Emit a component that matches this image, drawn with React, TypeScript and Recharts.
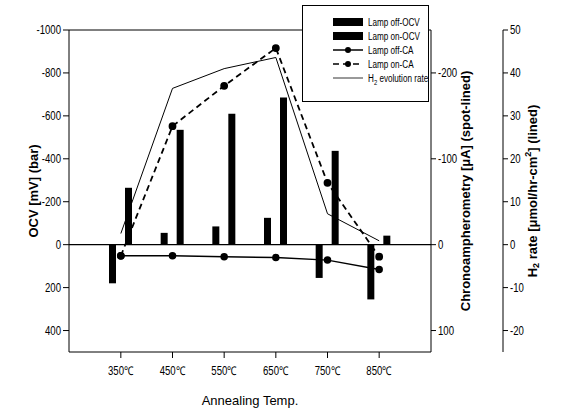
import React from 'react';
import {
  ComposedChart,
  Bar,
  Line,
  XAxis,
  YAxis,
  Legend,
  ReferenceLine,
} from 'recharts';

const temps = ['350℃', '450℃', '550℃', '650℃', '750℃', '850℃'];
const lampOffOcv = [180, -55, -85, -125, 155, 255];
const lampOnOcv = [-265, -535, -610, -685, -437, -42];
const lampOffCa = [13, 13, 14, 15, 18, 29];
const lampOnCa = [13, -138, -185, -229, -72, 14];
const h2Rate = [2.6, 36.4, 41, 43.6, 7.2, 0.9];

const ocvTicks = [-1000, -800, -600, -400, -200, 0, 200, 400];
const caTicks = [-200, -100, 0, 100];
const h2Ticks = [-20, -10, 0, 10, 20, 30, 40, 50];

const data = temps.map((t, i) => ({
  temp: t,
  offOcv: lampOffOcv[i],
  onOcv: lampOnOcv[i],
  offCa: lampOffCa[i],
  onCa: lampOnCa[i],
  h2: h2Rate[i],
}));

const SANS = "'Liberation Sans', Arial, sans-serif";
const SQUEEZE = 0.8; // no narrow font installed, so squash Arial a bit

// tick text squeezed horizontally to look like Arial Narrow
function NarrowTick(props: any) {
  const { x, y, payload, textAnchor, dy } = props;
  return (
    <text
      transform={`translate(${x},${y}) scale(${SQUEEZE},1)`}
      textAnchor={textAnchor}
      dy={dy}
      fontSize={12}
      fontFamily={SANS}
      fill="#000"
    >
      {payload.value}
    </text>
  );
}

function AxisTitle({ x, y, size = 13, children }: { x: number; y: number; size?: number; children: React.ReactNode }) {
  return (
    <text
      transform={`translate(${x},${y}) rotate(-90)`}
      textAnchor="middle"
      dominantBaseline="middle"
      fontFamily={SANS}
      fontWeight="bold"
      fontSize={size}
      fill="#000"
    >
      {children}
    </text>
  );
}

const legendRows = [
  { name: 'Lamp off-OCV', kind: 'bar' },
  { name: 'Lamp on-OCV', kind: 'bar' },
  { name: 'Lamp off-CA', kind: 'solid' },
  { name: 'Lamp on-CA', kind: 'dashed' },
  { name: 'H2 evolution rate', kind: 'thin' },
];

function LegendBox() {
  return (
    <svg width={127} height={97} style={{ display: 'block', background: '#fff' }}>
      <rect x={0.5} y={0.5} width={126} height={96} fill="#fff" stroke="#000" />
      {legendRows.map((r, i) => {
        const y = 17 + i * 14;
        return (
          <g key={r.name}>
            {r.kind === 'bar' && <rect x={31} y={y - 4} width={30} height={8} fill="#000" />}
            {r.kind === 'solid' && <line x1={31} x2={61} y1={y} y2={y} stroke="#000" strokeWidth={1.5} />}
            {r.kind === 'dashed' && (
              <line x1={31} x2={61} y1={y} y2={y} stroke="#000" strokeWidth={1.5} strokeDasharray="6 4" />
            )}
            {r.kind === 'thin' && <line x1={31} x2={61} y1={y} y2={y} stroke="#000" strokeWidth={0.8} />}
            {(r.kind === 'solid' || r.kind === 'dashed') && <circle cx={46} cy={y} r={3} fill="#000" />}
            <text
              transform={`translate(66,${y + 4}) scale(0.74,1)`}
              fontSize={11}
              fontFamily={SANS}
              fill="#000"
            >
              {r.kind === 'thin' ? (
                <>
                  H<tspan fontSize={8} dy={3}>2</tspan>
                  <tspan dy={-3}> evolution rate</tspan>
                </>
              ) : (
                r.name
              )}
            </text>
          </g>
        );
      })}
    </svg>
  );
}

export default function App() {
  return (
    <div style={{ position: 'absolute', left: 0, top: 0, background: '#fff' }}>
      <ComposedChart
        width={565}
        height={409}
        data={data}
        margin={{ top: 30, right: 0, bottom: 0, left: 0 }}
        barSize={7}
        barGap={9}
      >
        <XAxis
          dataKey="temp"
          height={57}
          padding={{ left: 26, right: 26 }}
          tick={<NarrowTick dy="0.71em" />}
          tickMargin={8}
          stroke="#000"
          label={{ value: 'Annealing Temp.', position: 'insideBottom', offset: 4, fontSize: 13, fontFamily: SANS, fill: '#000' }}
        />
        <YAxis
          yAxisId="ocv"
          orientation="left"
          width={69}
          domain={[-1000, 500]}
          reversed
          ticks={ocvTicks}
          interval={0}
          tick={<NarrowTick dy="0.35em" />}
          stroke="#000"
          label={<AxisTitle x={22} y={174}>OCV [mV] (bar)</AxisTitle>}
        />
        <YAxis
          yAxisId="ca"
          orientation="right"
          width={72}
          domain={[-250, 125]}
          reversed
          ticks={caTicks}
          interval={0}
          tick={<NarrowTick dy="0.35em" />}
          tickSize={5}
          stroke="#000"
          label={<AxisTitle x={479} y={188}>Chronoampherometry [μA] (spot-lined)</AxisTitle>}
        />
        <YAxis
          yAxisId="h2"
          orientation="right"
          width={62}
          domain={[-25, 50]}
          ticks={h2Ticks}
          interval={0}
          tick={<NarrowTick dy="0.35em" />}
          tickSize={5}
          stroke="#000"
          label={
            <AxisTitle x={549} y={168}>
              H<tspan fontSize={9} dy={3}>2</tspan>
              <tspan dy={-3}> rate [μmol/hr-cm</tspan>
              <tspan fontSize={9} dy={-5}>2</tspan>
              <tspan dy={5}>] (lined)</tspan>
            </AxisTitle>
          }
        />
        <ReferenceLine yAxisId="ocv" y={-1000} stroke="#000" />
        <Bar yAxisId="ocv" dataKey="offOcv" name="Lamp off-OCV" fill="#000" isAnimationActive={false} />
        <Bar yAxisId="ocv" dataKey="onOcv" name="Lamp on-OCV" fill="#000" isAnimationActive={false} />
        <ReferenceLine yAxisId="ocv" y={0} stroke="#000" strokeWidth={1.2} />
        <Line
          yAxisId="ca"
          dataKey="offCa"
          name="Lamp off-CA"
          stroke="#000"
          strokeWidth={1.5}
          dot={{ r: 3, fill: '#000', stroke: '#000' }}
          isAnimationActive={false}
        />
        <Line
          yAxisId="ca"
          dataKey="onCa"
          name="Lamp on-CA"
          stroke="#000"
          strokeWidth={1.8}
          strokeDasharray="6 4"
          dot={{ r: 3, fill: '#000', stroke: '#000', strokeDasharray: '0' }}
          isAnimationActive={false}
        />
        <Line
          yAxisId="h2"
          dataKey="h2"
          name="H2 evolution rate"
          stroke="#000"
          strokeWidth={1}
          dot={false}
          isAnimationActive={false}
        />
        <Legend
          layout="horizontal"
          verticalAlign="middle"
          align="center"
          content={() => <LegendBox />}
          wrapperStyle={{ left: 302, top: 5, width: 127, height: 97 }}
        />
      </ComposedChart>
    </div>
  );
}
